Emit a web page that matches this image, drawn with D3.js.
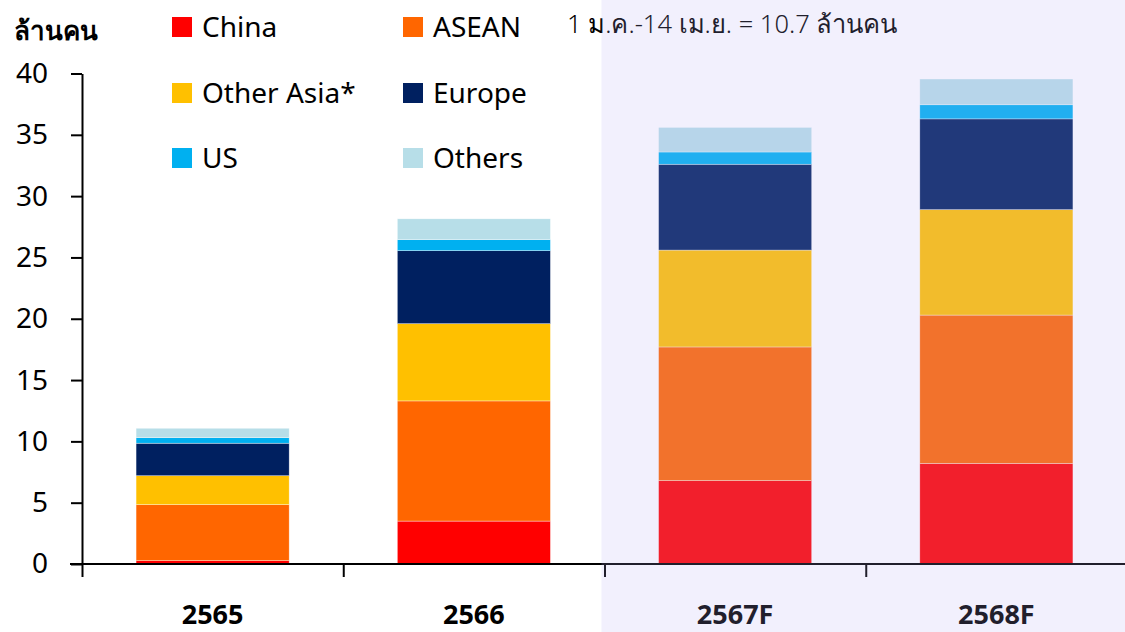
<!DOCTYPE html>
<html>
<head>
<meta charset="utf-8">
<script src="https://cdn.jsdelivr.net/npm/d3@7"></script>
<style>
  html, body { margin: 0; padding: 0; background: #fff; }
  svg { display: block; font-family: "Noto Sans", "Open Sans", sans-serif; }
</style>
</head>
<body>
<svg id="chart" width="1125" height="632"></svg>
<script>
// Visitor arrivals to Thailand by origin (million persons)
const years = ["2565", "2566", "2567F", "2568F"];
const seriesNames = ["China", "ASEAN", "Other Asia*", "Europe", "US", "Others"];
const china     = [0.27, 3.5, 6.8, 8.2];
const asean     = [4.57, 9.8, 10.9, 12.1];
const otherAsia = [2.36, 6.3, 7.9, 8.6];
const europe    = [2.65, 5.95, 7.0, 7.4];
const us        = [0.45, 0.9, 1.0, 1.15];
const others    = [0.77, 1.7, 2.0, 2.1];
const yTicks = [0, 5, 10, 15, 20, 25, 30, 35, 40];
const forecastFrom = "2567F";

const colors = ["#FF0000", "#FF6600", "#FFC000", "#002060", "#00B0F0", "#B7DEE8"];

const rows = years.map((yr, i) => ({
  year: yr,
  "China": china[i],
  "ASEAN": asean[i],
  "Other Asia*": otherAsia[i],
  "Europe": europe[i],
  "US": us[i],
  "Others": others[i]
}));

const svg = d3.select("#chart");
const W = 1125, H = 632;
const plotLeft = 82, plotRight = 1127, plotTop = 73.5, plotBottom = 564;

const x = d3.scaleBand().domain(years).range([plotLeft, plotRight]).padding(0);
const barW = x.bandwidth() * 0.586;
const y = d3.scaleLinear().domain([0, 40]).range([plotBottom, plotTop]);
const color = d3.scaleOrdinal().domain(seriesNames).range(colors);

const stacked = d3.stack().keys(seriesNames)(rows);

// Stacked bars
const layers = svg.append("g").selectAll("g")
  .data(stacked).join("g")
  .attr("fill", d => color(d.key));
layers.selectAll("rect")
  .data(d => d)
  .join("rect")
  .attr("x", d => x(d.data.year) + (x.bandwidth() - barW) / 2)
  .attr("width", barW)
  .attr("y", d => y(d[1]))
  .attr("height", d => y(d[0]) - y(d[1]))
  .attr("stroke", "#fff")
  .attr("stroke-width", 0.6)
  .attr("stroke-opacity", 0.6);

// Y axis
const yAxis = svg.append("g")
  .attr("transform", `translate(${plotLeft},0)`)
  .call(d3.axisLeft(y).tickValues(yTicks).tickSize(11).tickSizeOuter(0).tickPadding(23));
yAxis.select(".domain").attr("stroke", "#000").attr("stroke-width", 2);
yAxis.selectAll(".tick line").attr("stroke", "#000").attr("stroke-width", 2);
yAxis.selectAll(".tick text")
  .attr("font-size", 28).attr("fill", "#000")
  .attr("font-family", "'Noto Sans', sans-serif");

// X axis: boundary ticks
const xb = d3.scaleLinear().domain([0, years.length]).range([plotLeft, plotRight]);
const xAxisLine = svg.append("g")
  .attr("transform", `translate(0,${plotBottom})`)
  .call(d3.axisBottom(xb).tickValues(d3.range(years.length + 1)).tickFormat("").tickSize(13).tickSizeOuter(0));
xAxisLine.select(".domain").attr("stroke", "#000").attr("stroke-width", 2)
  .attr("d", `M${plotLeft - 12},0H${W}`);
xAxisLine.selectAll(".tick line").attr("stroke", "#000").attr("stroke-width", 2);

// X axis: category labels
const xAxis = svg.append("g")
  .attr("transform", `translate(0,${plotBottom})`)
  .call(d3.axisBottom(x).tickSize(0).tickPadding(41));
xAxis.select(".domain").remove();
xAxis.selectAll(".tick text")
  .attr("font-size", 27).attr("font-weight", "bold").attr("fill", "#000")
  .attr("font-family", "'Noto Sans', sans-serif");

// Unit label
svg.append("text")
  .attr("x", 14).attr("y", 40)
  .attr("font-size", 26).attr("font-weight", "bold")
  .text("ล้านคน");

// Legend
const legendPos = [
  [172, 27], [403, 27],
  [172, 93], [403, 93],
  [172, 158], [403, 158]
];
const legend = svg.append("g").selectAll("g")
  .data(seriesNames).join("g")
  .attr("transform", (d, i) => `translate(${legendPos[i][0]},${legendPos[i][1]})`);
legend.append("rect")
  .attr("x", 0).attr("y", -10).attr("width", 20).attr("height", 20)
  .attr("fill", d => color(d));
legend.append("text")
  .attr("x", 30).attr("y", 0).attr("dy", "0.36em")
  .attr("font-size", 28).attr("fill", "#000")
  .text(d => d);

// Year-to-date note
svg.append("text")
  .attr("x", 567).attr("y", 24).attr("dy", "0.36em")
  .attr("font-size", 25.5).attr("font-weight", 300).attr("fill", "#000")
  .text("1 ม.ค.-14 เม.ย. = 10.7 ล้านคน");

// Forecast period shading (drawn over the marks)
svg.append("rect")
  .attr("x", x(forecastFrom) - 3).attr("y", 0)
  .attr("width", W - x(forecastFrom) + 3).attr("height", H)
  .attr("fill", "rgb(183,172,244)").attr("fill-opacity", 0.18);
</script>
</body>
</html>
